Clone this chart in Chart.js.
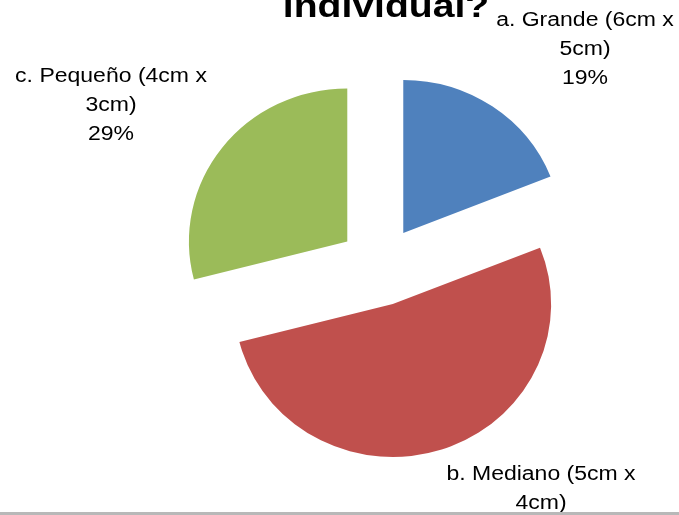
<!DOCTYPE html>
<html>
<head>
<meta charset="utf-8">
<script src="https://cdn.jsdelivr.net/npm/chart.js@4.4.1/dist/chart.umd.min.js"></script>
<style>
  html, body { margin: 0; padding: 0; background: #ffffff; }
  #wrap { width: 679px; height: 515px; position: relative; }
</style>
</head>
<body>
<div id="wrap"><canvas id="chart" width="679" height="515"></canvas></div>
<script>
// Survey answers: preferred size (share of respondents, %)
const categories = ['a. Grande (6cm x 5cm)', 'b. Mediano (5cm x 4cm)', 'c. Pequeño (4cm x 3cm)'];
const labelLines = [['a. Grande (6cm x', '5cm)'], ['b. Mediano (5cm x', '4cm)'], ['c. Pequeño (4cm x', '3cm)']];
const shares = [19, 52, 29];
const sliceColors = ['#4F81BD', '#C0504D', '#9BBB59'];
const titleText = 'individual?';

// Where each data label block is centred (first line), and line spacing
const labelAnchors = [
  { x: 585, y: 20 },
  { x: 541, y: 474 },
  { x: 111, y: 76 }
];
const LINE_STEP = 29;
const EXPLODE = 40;        // distance each slice is pulled out from the centre
const PIE_STRETCH = 1.035; // the pie is drawn slightly wider than tall
const TEXT_STRETCH = 1.15;

function stretchedText(ctx, text, x, y, font, align, baseline) {
  ctx.save();
  ctx.font = font;
  ctx.textAlign = align;
  ctx.textBaseline = baseline;
  ctx.translate(x, y);
  ctx.scale(TEXT_STRETCH, 1);
  ctx.fillText(text, 0, 0);
  ctx.restore();
}

// Pull every slice outward along its bisector
const explodePlugin = {
  id: 'explodeSlices',
  afterDatasetsUpdate(chart) {
    const meta = chart.getDatasetMeta(0);
    meta.data.forEach(arc => {
      const mid = (arc.startAngle + arc.endAngle) / 2;
      arc.x += Math.cos(mid) * EXPLODE;
      arc.y += Math.sin(mid) * EXPLODE;
    });
  },
  beforeDatasetsDraw(chart) {
    const ctx = chart.ctx;
    const cx = (chart.chartArea.left + chart.chartArea.right) / 2;
    ctx.save();
    ctx.translate(cx, 0);
    ctx.scale(PIE_STRETCH, 1);
    ctx.translate(-cx, 0);
  },
  afterDatasetsDraw(chart) {
    chart.ctx.restore();
  }
};

// Title, data labels and the frame line at the bottom
const decorPlugin = {
  id: 'decor',
  afterDraw(chart) {
    const ctx = chart.ctx;
    const total = shares.reduce((a, b) => a + b, 0);
    ctx.save();
    ctx.fillStyle = '#000000';
    stretchedText(ctx, titleText, 386, 17, 'bold 34px "Liberation Sans", Arial, sans-serif', 'center', 'alphabetic');
    shares.forEach((v, i) => {
      const lines = labelLines[i].concat([Math.round(v / total * 100) + '%']);
      const a = labelAnchors[i];
      lines.forEach((t, k) => {
        stretchedText(ctx, t, a.x, a.y + k * LINE_STEP, '20px "Liberation Sans", Arial, sans-serif', 'center', 'middle');
      });
    });
    ctx.fillStyle = '#b8b8b8';
    ctx.fillRect(0, 512, chart.width, 3);
    ctx.restore();
  }
};

new Chart(document.getElementById('chart'), {
  type: 'pie',
  data: {
    labels: categories,
    datasets: [{
      data: shares,
      backgroundColor: sliceColors,
      borderWidth: 0,
      radius: 153
    }]
  },
  options: {
    responsive: false,
    animation: false,
    events: [],
    layout: { padding: { left: 81, right: 0, top: 17, bottom: 0 } },
    plugins: {
      legend: { display: false },
      tooltip: { enabled: false },
      title: { display: false }
    }
  },
  plugins: [explodePlugin, decorPlugin]
});
</script>
</body>
</html>
